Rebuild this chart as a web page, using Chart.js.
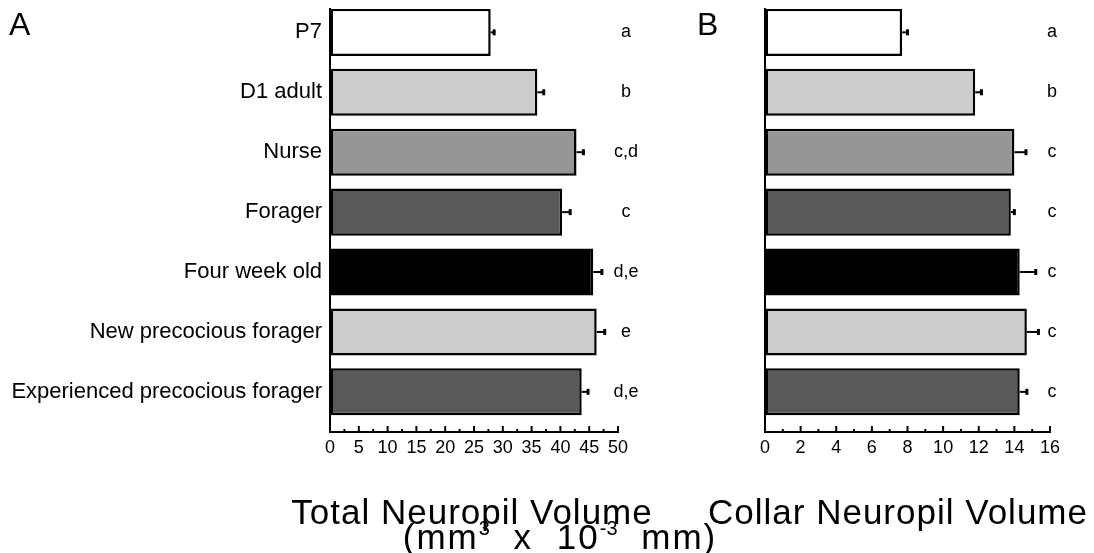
<!DOCTYPE html>
<html>
<head>
<meta charset="utf-8">
<script src="https://cdn.jsdelivr.net/npm/chart.js@4/dist/chart.umd.min.js"></script>
<style>
  body { margin: 0; background: #fff; }
  #wrap { position: relative; width: 1094px; height: 553px; overflow: hidden; font-family: "Liberation Sans", Arial, sans-serif; color: #000; }
  canvas { position: absolute; top: 0; }
  #chartA { left: 0; }
  #chartB { left: 700px; }
  .panel { position: absolute; top: 6px; font-size: 32px; }
  .axtitle { position: absolute; top: 494px; width: 500px; text-align: center; font-size: 35px; line-height: 36px; letter-spacing: 1px; white-space: nowrap; }
  #units { position: absolute; left: 260px; width: 600px; top: 520px; text-align: center; font-size: 35px; line-height: 34px; letter-spacing: 2px; word-spacing: 12px; white-space: nowrap; }
  #units sup { font-size: 20px; vertical-align: 14px; line-height: 0; letter-spacing: 0; }
</style>
</head>
<body>
<div id="wrap">
  <canvas id="chartA" width="700" height="553"></canvas>
  <canvas id="chartB" width="394" height="553"></canvas>
  <div class="panel" style="left:9px">A</div>
  <div class="panel" style="left:697px">B</div>
  <div class="axtitle" style="left:222px">Total Neuropil Volume</div>
  <div class="axtitle" style="left:648px">Collar Neuropil Volume</div>
  <div id="units">(mm<sup>3</sup> x 10<sup>-3</sup> mm)</div>
</div>
<script>
const categories = [
  "P7",
  "D1 adult",
  "Nurse",
  "Forager",
  "Four week old",
  "New precocious forager",
  "Experienced precocious forager",
];
const barColors = ["#ffffff", "#cccccc", "#969696", "#595959", "#000000", "#cccccc", "#595959"];

const totalVolume = [27.9, 36.0, 42.8, 40.3, 45.7, 46.3, 43.7];
const totalErr = [0.6, 1.1, 1.2, 1.4, 1.5, 1.4, 1.1];
const totalLetters = ["a", "b", "c,d", "c", "d,e", "e", "d,e"];

const collarVolume = [7.7, 11.8, 14.0, 13.8, 14.3, 14.7, 14.3];
const collarErr = [0.3, 0.35, 0.65, 0.2, 0.9, 0.65, 0.4];
const collarLetters = ["a", "b", "c", "c", "c", "c", "c"];

const totalTicks = [0, 5, 10, 15, 20, 25, 30, 35, 40, 45, 50];
const collarTicks = [0, 2, 4, 6, 8, 10, 12, 14, 16];

const FONT = "'Liberation Sans', Arial, sans-serif";

// ticks pointing into the plot, major + minor halfway
const innerTicks = {
  id: "innerTicks",
  afterDraw(chart) {
    const { ctx, chartArea } = chart;
    const xs = chart.scales.x;
    const ticks = chart.options.plugins.innerTicks.values;
    ctx.save();
    ctx.strokeStyle = "#000";
    ctx.lineWidth = 2;
    ticks.forEach((t, i) => {
      const px = xs.getPixelForValue(t);
      ctx.beginPath();
      ctx.moveTo(px, chartArea.bottom);
      ctx.lineTo(px, chartArea.bottom - 6);
      ctx.stroke();
      if (i < ticks.length - 1) {
        const mx = xs.getPixelForValue((t + ticks[i + 1]) / 2);
        ctx.beginPath();
        ctx.moveTo(mx, chartArea.bottom);
        ctx.lineTo(mx, chartArea.bottom - 3);
        ctx.stroke();
      }
    });
    ctx.restore();
  },
};

// one-sided error bars and significance letters
const errorBars = {
  id: "errorBars",
  afterDatasetsDraw(chart) {
    const { ctx, chartArea } = chart;
    const xs = chart.scales.x;
    const ys = chart.scales.y;
    const opts = chart.options.plugins.errorBars;
    ctx.save();
    opts.values.forEach((v, i) => {
      const x0 = xs.getPixelForValue(v);
      const x1 = xs.getPixelForValue(v + opts.errors[i]);
      const y = ys.getPixelForValue(i);
      ctx.strokeStyle = "#000";
      ctx.lineWidth = 2;
      ctx.beginPath();
      ctx.moveTo(x0, y);
      ctx.lineTo(x1, y);
      ctx.stroke();
      ctx.lineWidth = 3;
      ctx.beginPath();
      ctx.moveTo(x1, y - 3);
      ctx.lineTo(x1, y + 3);
      ctx.stroke();
      ctx.fillStyle = "#000";
      ctx.font = "18px " + FONT;
      ctx.textAlign = "center";
      ctx.textBaseline = "middle";
      ctx.fillText(opts.letters[i], chartArea.right + opts.letterGap, y);
    });
    ctx.restore();
  },
};

function makeChart(canvasId, values, errors, letters, ticks, showLabels, yWidth, padRight, letterGap) {
  return new Chart(document.getElementById(canvasId), {
    type: "bar",
    data: {
      datasets: [
        {
          data: values.map((v, i) => ({ x: v, y: i })),
          backgroundColor: barColors,
          borderColor: "#000",
          borderWidth: 2.5,
          borderSkipped: false,
          barPercentage: 0.785,
          categoryPercentage: 1,
        },
      ],
    },
    options: {
      indexAxis: "y",
      responsive: false,
      animation: false,
      layout: { padding: { left: 0, right: padRight, top: 9, bottom: 0 } },
      scales: {
        x: {
          type: "linear",
          min: ticks[0],
          max: ticks[ticks.length - 1],
          afterBuildTicks: (s) => { s.ticks = ticks.map((t) => ({ value: t })); },
          afterFit: (s) => { s.height = 121; },
          grid: { drawOnChartArea: false, drawTicks: false },
          border: { color: "#000", width: 2 },
          ticks: { color: "#000", padding: 5, font: { family: FONT, size: 18 } },
        },
        y: {
          type: "linear",
          reverse: true,
          offset: false,
          min: -0.39,
          max: 6.67,
          afterBuildTicks: (s) => { s.ticks = categories.map((c, i) => ({ value: i })); },
          afterFit: (s) => {
            s.width = yWidth;
            s.paddingTop = 0;
            s.paddingBottom = 0;
          },
          grid: { offset: false, drawOnChartArea: false, drawTicks: false },
          border: { color: "#000", width: 2 },
          ticks: {
            display: showLabels,
            color: "#000",
            padding: 8,
            font: { family: FONT, size: 22 },
            callback: (v) => categories[v] ?? "",
          },
        },
      },
      plugins: {
        legend: { display: false },
        tooltip: { enabled: false },
        innerTicks: { values: ticks },
        errorBars: { values: values, errors: errors, letters: letters, letterGap: letterGap },
      },
    },
    plugins: [innerTicks, errorBars],
  });
}

makeChart("chartA", totalVolume, totalErr, totalLetters, totalTicks, true, 330, 82, 8);
makeChart("chartB", collarVolume, collarErr, collarLetters, collarTicks, false, 65, 44, 2);
</script>
</body>
</html>
